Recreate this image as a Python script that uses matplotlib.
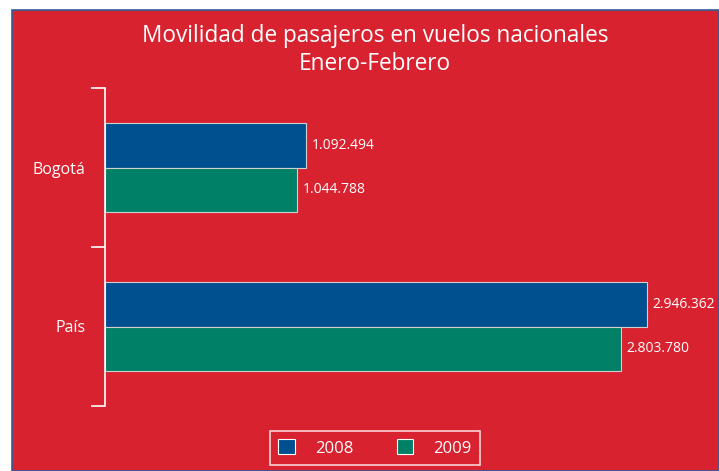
import matplotlib.pyplot as plt
from matplotlib.patches import Rectangle
import numpy as np

# Data
categories = ['Bogotá', 'País']
years = ['2008', '2009']
pasajeros_2008 = [1092494, 2946362]
pasajeros_2009 = [1044788, 2803780]

red = '#D8222F'
blue = '#004F8F'
green = '#008066'


def fmt(v):
    # thousands separated by dots
    return f'{v:,}'.replace(',', '.')


fig = plt.figure(figsize=(7.19, 4.71), dpi=100)
fig.patch.set_facecolor('white')

# red panel with thin blue border, drawn behind everything
fig.patches.append(Rectangle((12 / 719, 0), 1 - 12 / 719, 1 - 10 / 471,
                             transform=fig.transFigure, facecolor=red,
                             edgecolor='#2F5F9A', linewidth=1.2, zorder=-10))

ax = fig.add_axes([105 / 719, 1 - 406 / 471, 595 / 719, 318 / 471])
ax.set_facecolor('none')

y = np.arange(len(categories))
h = 0.28
bars1 = ax.barh(y - h / 2, pasajeros_2008, height=h, color=blue,
                edgecolor='#D0D0D0', linewidth=0.8, label=years[0])
bars2 = ax.barh(y + h / 2, pasajeros_2009, height=h, color=green,
                edgecolor='#D0D0D0', linewidth=0.8, label=years[1])

ax.set_xlim(0, 3234000)
ax.set_ylim(1.5, -0.5)

for bars, vals in [(bars1, pasajeros_2008), (bars2, pasajeros_2009)]:
    for b, v in zip(bars, vals):
        ax.annotate(fmt(v), (v, b.get_y() + b.get_height() / 2),
                    xytext=(4, 0), textcoords='offset points',
                    va='center', ha='left', color='white', fontsize=10,
                    family='Open Sans')

for s in ['top', 'right', 'bottom']:
    ax.spines[s].set_visible(False)
ax.spines['left'].set_color('white')
ax.spines['left'].set_linewidth(1.2)
ax.set_xticks([])

ax.set_yticks(y)
ax.set_yticklabels(categories, color='white', fontsize=11.5, family='Open Sans')
ax.tick_params(axis='y', which='major', length=0, pad=14)
ax.set_yticks([-0.5, 0.5, 1.5], minor=True)
ax.tick_params(axis='y', which='minor', length=10, width=1.2, color='white')

fig.text(375 / 719, 1 - 50 / 471, 'Movilidad de pasajeros en vuelos nacionales\nEnero-Febrero',
         ha='center', va='center', color='white', fontsize=16.3,
         family='Open Sans', linespacing=1.25)

leg = fig.legend(loc='center', bbox_to_anchor=(375 / 719, 1 - 448 / 471),
                 ncol=2, frameon=True, fancybox=False,
                 handlelength=1.0, handleheight=1.0, columnspacing=2.6,
                 handletextpad=1.2, borderpad=0.5, borderaxespad=0,
                 prop={'family': 'Open Sans', 'size': 12})
leg.get_frame().set_facecolor('none')
leg.get_frame().set_edgecolor('white')
leg.get_frame().set_linewidth(1.2)
for t in leg.get_texts():
    t.set_color('white')
for p in leg.get_patches():
    p.set_edgecolor('white')

fig.savefig('out.png', dpi=100, facecolor=fig.get_facecolor())
